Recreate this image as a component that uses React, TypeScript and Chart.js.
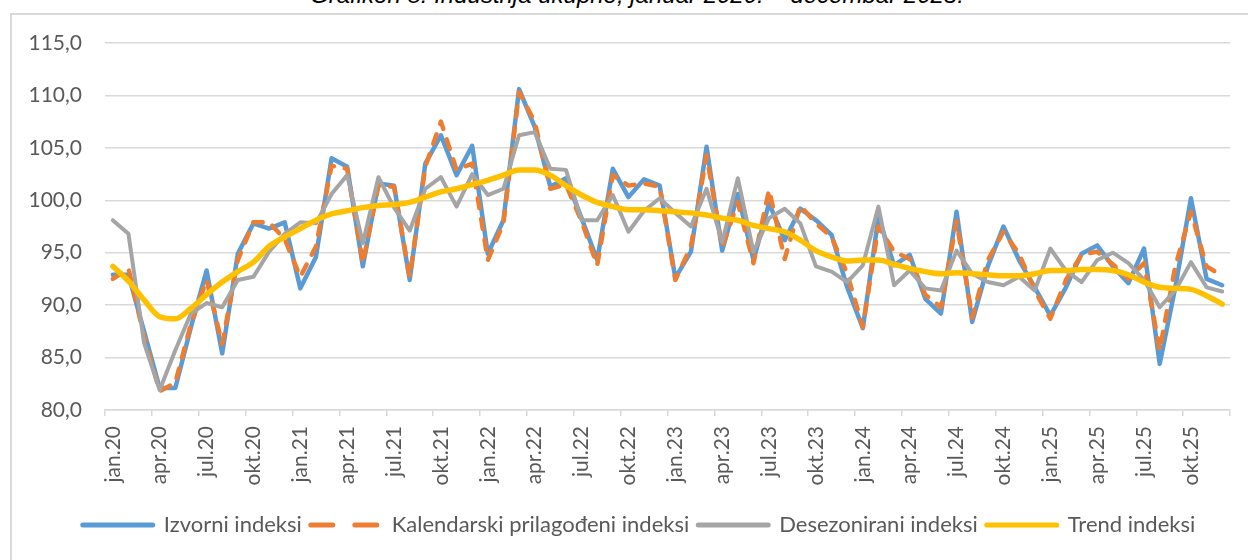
import React, { useEffect, useRef } from 'react';
import { Chart, registerables } from 'chart.js';

Chart.register(...registerables);

const monthNames = ['jan', 'feb', 'mar', 'apr', 'maj', 'jun', 'jul', 'avg', 'sep', 'okt', 'nov', 'dec'];
const yearSuffixes = ['20', '21', '22', '23', '24', '25'];
const categories = yearSuffixes.flatMap((y) => monthNames.map((m) => `${m}.${y}`));

const izvorni = [
  92.9, 92.9, 87.5, 82.1, 82.1, 87.9, 93.3, 85.4, 94.9, 97.8, 97.3, 97.9,
  91.6, 94.6, 104.0, 103.2, 93.7, 101.6, 101.4, 92.4, 103.5, 106.2, 102.4, 105.2,
  94.9, 98.1, 110.6, 107.0, 101.3, 102.1, 98.3, 94.3, 103.0, 100.3, 102.0, 101.4,
  92.6, 95.1, 105.1, 95.2, 100.6, 94.3, 99.7, 96.2, 99.2, 98.1, 96.7, 91.7,
  87.8, 98.4, 93.8, 94.8, 90.6, 89.2, 98.9, 88.4, 93.7, 97.5, 94.3, 91.7,
  89.0, 91.7, 94.9, 95.7, 93.7, 92.1, 95.4, 84.4, 91.7, 100.2, 92.5, 91.9,
];

const kalendarski = [
  92.5, 93.5, 87.0, 81.8, 82.6, 88.2, 92.4, 86.3, 94.3, 97.9, 97.9, 96.3,
  92.7, 95.6, 103.3, 103.0, 94.0, 101.4, 101.3, 92.7, 103.2, 107.5, 102.9, 103.5,
  94.3, 97.8, 110.3, 107.5, 101.1, 101.5, 98.0, 93.8, 102.4, 101.4, 101.6, 101.3,
  92.4, 95.6, 104.3, 95.5, 99.8, 94.0, 101.0, 94.4, 99.5, 97.8, 96.5, 93.0,
  87.9, 97.5, 95.1, 94.4, 91.0, 89.8, 98.0, 88.8, 94.3, 97.0, 94.9, 91.4,
  88.7, 92.4, 94.8, 95.1, 93.9, 92.5, 94.0, 85.7, 93.7, 98.9, 93.7, 92.8,
];

const desezonirani = [
  98.1, 96.8, 86.4, 81.9, 85.7, 89.2, 90.2, 89.8, 92.4, 92.7, 95.1, 96.8,
  97.9, 97.8, 100.6, 102.4, 95.9, 102.2, 99.3, 97.1, 101.1, 102.2, 99.4, 102.5,
  100.5, 101.1, 106.2, 106.5, 103.0, 102.9, 98.1, 98.1, 100.5, 97.0, 99.0, 100.2,
  98.8, 97.5, 101.1, 96.0, 102.1, 95.1, 98.3, 99.2, 97.8, 93.7, 93.2, 92.2,
  93.8, 99.4, 91.9, 93.3, 91.6, 91.4, 95.2, 93.0, 92.2, 91.9, 92.7, 91.4,
  95.4, 93.3, 92.2, 94.3, 95.0, 94.0, 92.4, 89.8, 91.4, 94.1, 91.7, 91.3,
];

const trend = [
  93.7, 92.3, 90.5, 88.9, 88.7, 89.7, 91.0, 92.2, 93.2, 94.1, 95.6, 96.5,
  97.3, 98.1, 98.7, 99.0, 99.3, 99.5, 99.6, 99.8, 100.3, 100.8, 101.1, 101.5,
  101.9, 102.4, 102.9, 102.9, 102.4, 101.4, 100.5, 99.8, 99.4, 99.1, 99.1, 99.0,
  98.9, 98.8, 98.6, 98.3, 98.1, 97.6, 97.3, 97.0, 96.2, 95.2, 94.6, 94.2,
  94.3, 94.3, 93.9, 93.5, 93.2, 93.0, 93.1, 93.0, 92.9, 92.8, 92.8, 93.0,
  93.3, 93.3, 93.4, 93.4, 93.3, 92.9, 92.2, 91.7, 91.6, 91.5, 90.9, 90.1,
];

const seriesNames = ['Izvorni indeksi', 'Kalendarski prilagođeni indeksi', 'Desezonirani indeksi', 'Trend indeksi'];
const yMin = 80;
const yMax = 115;
const yStep = 5;
const titleText = 'Grafikon 8. Industrija ukupno, januar 2020. – decembar 2025.';

const BLUE = '#5B9BD5';
const ORANGE = '#ED7D31';
const GRAY = '#A5A5A5';
const GOLD = '#FFC000';
const GRID = '#D9D9D9';
const TEXT = '#595959';
const FONT = 'Lato, "Open Sans", sans-serif';

const shiftLegend = {
  id: 'shiftLegend',
  afterLayout(chart: any) {
    const lg = chart.legend;
    if (lg) {
      lg.left += 24;
      lg.right += 24;
    }
  },
};

export default function App() {
  const canvasRef = useRef<HTMLCanvasElement | null>(null);

  useEffect(() => {
    const canvas = canvasRef.current;
    if (!canvas) return;
    const styles = [
      { color: BLUE, width: 4.5, dash: [] as number[] },
      { color: ORANGE, width: 4.5, dash: [10, 11] },
      { color: GRAY, width: 4, dash: [] as number[] },
      { color: GOLD, width: 5.5, dash: [] as number[] },
    ];
    const values = [izvorni, kalendarski, desezonirani, trend];
    const chart = new Chart(canvas, {
      type: 'line',
      data: {
        labels: categories,
        datasets: values.map((data, i) => ({
          label: seriesNames[i],
          data,
          borderColor: styles[i].color,
          backgroundColor: styles[i].color,
          borderWidth: styles[i].width,
          borderDash: styles[i].dash,
          borderCapStyle: 'round' as const,
          borderJoinStyle: 'round' as const,
          pointRadius: 0,
          pointHoverRadius: 0,
          tension: 0,
          cubicInterpolationMode: i === 3 ? ('monotone' as const) : ('default' as const),
          fill: false,
          order: 4 - i,
        })),
      },
      plugins: [shiftLegend],
      options: {
        animation: false,
        responsive: false,
        maintainAspectRatio: false,
        layout: { padding: { left: 0, right: 18, top: 43, bottom: 14 } },
        plugins: {
          tooltip: { enabled: false },
          title: { display: false },
          legend: {
            display: true,
            position: 'bottom',
            labels: {
              color: TEXT,
              font: { family: FONT, size: 22 },
              usePointStyle: true,
              pointStyle: 'line',
              pointStyleWidth: 70,
              boxHeight: 21,
              padding: 9,
              generateLabels: (ch: any) =>
                ch.data.datasets.map((ds: any, i: number) => ({
                  text: ds.label,
                  fillStyle: styles[i].color,
                  strokeStyle: styles[i].color,
                  lineWidth: 5,
                  lineDash: i === 1 ? [22, 22] : [],
                  lineCap: 'round',
                  pointStyle: 'line',
                  fontColor: TEXT,
                  hidden: false,
                  datasetIndex: i,
                })),
            },
          },
        },
        scales: {
          x: {
            type: 'category',
            offset: true,
            afterFit: (scale: any) => {
              scale.height = 95;
              scale.paddingLeft = 0;
              scale.paddingRight = 0;
            },
            grid: {
              offset: true,
              drawOnChartArea: false,
              drawTicks: true,
              tickLength: 6,
              lineWidth: 1.5,
              color: (ctx: any) => {
                if (ctx.type === 'tick') return ctx.index % 3 === 0 ? GRID : 'rgba(0,0,0,0)';
                return GRID;
              },
            },
            border: { display: true, color: GRID, width: 1.5 },
            ticks: {
              autoSkip: false,
              minRotation: 90,
              maxRotation: 90,
              padding: 10,
              color: TEXT,
              font: { family: FONT, size: 21 },
              callback: (_v: any, idx: number) => (idx % 3 === 0 ? categories[idx] : ''),
            },
          },
          y: {
            min: yMin,
            max: yMax,
            afterFit: (scale: any) => {
              scale.width = 105;
            },
            grid: { color: GRID, lineWidth: 1.5, drawTicks: false },
            border: { display: false },
            ticks: {
              stepSize: yStep,
              padding: 23,
              color: TEXT,
              font: { family: FONT, size: 21 },
              callback: (v: any) => Number(v).toFixed(1).replace('.', ','),
            },
          },
        },
      },
    });
    return () => chart.destroy();
  }, []);

  return (
    <div style={{ position: 'fixed', left: 0, top: 0, width: 1248, height: 560, background: '#fff', overflow: 'hidden' }}>
      <div
        style={{
          position: 'absolute',
          left: 10,
          top: 13,
          width: 1260,
          height: 600,
          border: `2px solid ${GRID}`,
          boxSizing: 'border-box',
        }}
      />
      <div
        style={{
          position: 'absolute',
          left: 0,
          width: 1274,
          top: -19,
          textAlign: 'center',
          fontFamily: '"Liberation Sans", Arial, sans-serif',
          fontStyle: 'italic',
          fontSize: 24,
          lineHeight: '28px',
          color: '#000',
          whiteSpace: 'nowrap',
        }}
      >
        {titleText}
      </div>
      <canvas ref={canvasRef} width={1248} height={560} style={{ position: 'absolute', left: 0, top: 0, width: 1248, height: 560 }} />
    </div>
  );
}
